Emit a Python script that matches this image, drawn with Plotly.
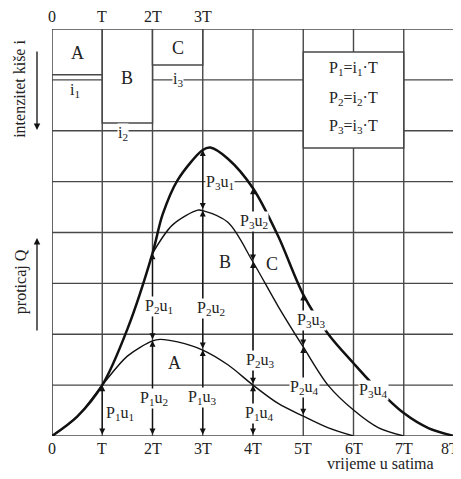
import plotly.graph_objects as go

# ---------------- data ----------------
TIME_TICKS = [0, 1, 2, 3, 4, 5, 6, 7, 8]
TIME_LABELS = ["0", "T", "2T", "3T", "4T", "5T", "6T", "7T", "8T"]
TOP_TICKS = [0, 1, 2, 3]
TOP_LABELS = ["0", "T", "2T", "3T"]

# runoff from block A
a_x = [0, 0.5, 1, 1.5, 2, 2.15, 2.5, 3, 3.5, 4, 4.5, 5, 5.5, 6]
a_y = [0, 0.38, 1, 1.57, 1.87, 1.9, 1.85, 1.69, 1.40, 1.0, 0.64, 0.39, 0.16, 0]
# runoff A + B
ab_x = [2, 2.4, 2.9, 3, 3.5, 4, 4.5, 5, 5.5, 6, 6.5, 7]
ab_y = [3.59, 4.15, 4.44, 4.43, 4.2, 3.42, 2.55, 1.75, 0.99, 0.51, 0.16, 0]
# runoff A + B + C
abc_x = [0, 0.5, 1, 1.5, 2, 2.2, 2.5, 3, 3.15, 3.5, 4, 4.5, 5, 5.5, 6, 6.4, 7, 7.5, 8]
abc_y = [0, 0.38, 1, 2.1, 3.59, 4.35, 5.03, 5.62, 5.67, 5.45, 4.87, 3.93, 2.78, 2.0, 1.43, 1.0, 0.45, 0.15, 0]

# rain blocks (hanging from the top)
block_names = ["A", "B", "C"]
block_x0 = [0, 1, 2]
block_x1 = [1, 2, 3]
block_bottom = [7.1, 6.15, 7.29]
block_top = 8
intensity_names = ["i<sub>1</sub>", "i<sub>2</sub>", "i<sub>3</sub>"]

# formula box
formula_x = [5, 7]
formula_y = [5.66, 7.55]
formula_lines = ["P<sub>1</sub>=i<sub>1</sub>·T",
                 "P<sub>2</sub>=i<sub>2</sub>·T",
                 "P<sub>3</sub>=i<sub>3</sub>·T"]

# ordinate arrows  (x, from, to)
arrow_x = [1, 2, 2, 3, 3, 3, 4, 4, 4, 5, 5]
arrow_y0 = [0, 0, 1.87, 0, 1.69, 4.43, 0, 1.0, 3.42, 0.39, 1.75]
arrow_y1 = [1, 1.87, 3.59, 1.69, 4.43, 5.62, 1.0, 3.42, 4.87, 1.75, 2.78]

# ordinate labels
ord_text = ["P<sub>1</sub>u<sub>1</sub>", "P<sub>1</sub>u<sub>2</sub>", "P<sub>1</sub>u<sub>3</sub>",
            "P<sub>1</sub>u<sub>4</sub>", "P<sub>2</sub>u<sub>1</sub>", "P<sub>2</sub>u<sub>2</sub>",
            "P<sub>2</sub>u<sub>3</sub>", "P<sub>2</sub>u<sub>4</sub>", "P<sub>3</sub>u<sub>1</sub>",
            "P<sub>3</sub>u<sub>2</sub>", "P<sub>3</sub>u<sub>3</sub>", "P<sub>3</sub>u<sub>4</sub>"]
ord_x = [1.36, 2.03, 3.0, 4.13, 2.12, 3.16, 4.15, 5.03, 3.34, 4.02, 5.17, 6.39]
ord_y = [0.45, 0.74, 0.75, 0.45, 2.54, 2.51, 1.48, 0.96, 4.98, 4.21, 2.28, 0.90]

curve_names = ["A", "B", "C"]
curve_lab_x = [2.43, 3.44, 4.37]
curve_lab_y = [1.43, 3.43, 3.39]

# ---------------- style ----------------
FONT = "Liberation Serif"
TXT = "#222222"
GRID = "#484848"
INK = "#111111"

fig = go.Figure()

fig.add_trace(go.Scatter(x=a_x, y=a_y, mode="lines", line=dict(color=INK, width=1.4, shape="spline", smoothing=0.9),
                         hoverinfo="skip", showlegend=False))
fig.add_trace(go.Scatter(x=ab_x, y=ab_y, mode="lines", line=dict(color=INK, width=1.4, shape="spline", smoothing=0.9),
                         hoverinfo="skip", showlegend=False))
fig.add_trace(go.Scatter(x=abc_x, y=abc_y, mode="lines", line=dict(color=INK, width=2.5, shape="spline", smoothing=0.9),
                         hoverinfo="skip", showlegend=False))

shapes = []
# grid and frame
for v in TIME_TICKS:
    w = 1.7 if v in (0, 8) else 1.4
    shapes.append(dict(type="line", xref="x", yref="y", x0=v, x1=v, y0=0, y1=8,
                       line=dict(color=GRID, width=w), layer="below"))
    shapes.append(dict(type="line", xref="x", yref="y", x0=0, x1=8, y0=v, y1=v,
                       line=dict(color=GRID, width=w), layer="below"))
for x0, x1, yb in zip(block_x0, block_x1, block_bottom):
    shapes.append(dict(type="rect", xref="x", yref="y", x0=x0, x1=x1, y0=yb, y1=block_top,
                       fillcolor="white", line=dict(color=GRID, width=1.5), layer="above"))
shapes.append(dict(type="rect", xref="x", yref="y", x0=formula_x[0], x1=formula_x[1],
                   y0=formula_y[0], y1=formula_y[1], fillcolor="white",
                   line=dict(color=GRID, width=1.5), layer="above"))

ann = []
for x, y0, y1 in zip(arrow_x, arrow_y0, arrow_y1):
    ann.append(dict(x=x, y=y1, ax=x, ay=y0, xref="x", yref="y", axref="x", ayref="y",
                    text="", showarrow=True, arrowhead=2, startarrowhead=2, arrowside="end+start",
                    arrowsize=1, startarrowsize=1, arrowwidth=1.2, arrowcolor=INK,
                    standoff=0, startstandoff=0))

f16 = dict(family=FONT, size=16, color=TXT)
f18 = dict(family=FONT, size=18, color=TXT)
C = dict(xanchor="center", yanchor="middle", showarrow=False)

for t, x, y in zip(ord_text, ord_x, ord_y):
    ann.append(dict(x=x, y=y, xref="x", yref="y", text=t, font=f16, bgcolor="white", borderpad=0, **C))
for t, x, y in zip(curve_names, curve_lab_x, curve_lab_y):
    ann.append(dict(x=x, y=y, xref="x", yref="y", text=t, font=f18, **C))

# block labels
block_lab_pos = [(0.5, 7.53), (1.49, 7.04), (2.5, 7.63)]
for t, (x, y) in zip(block_names, block_lab_pos):
    ann.append(dict(x=x, y=y, xref="x", yref="y", text=t, font=f18, **C))
int_lab_pos = [(0.46, 6.8, None), (1.42, 5.95, "white"), (2.5, 7.0, "white")]
for t, (x, y, bg) in zip(intensity_names, int_lab_pos):
    d = dict(x=x, y=y, xref="x", yref="y", text=t, font=f16, borderpad=0, **C)
    if bg:
        d["bgcolor"] = bg
    ann.append(d)

for t, y in zip(formula_lines, [7.23, 6.63, 6.08]):
    ann.append(dict(x=6, y=y, xref="x", yref="y", text=t, font=f16, **C))

# top time labels
for v, t in zip(TOP_TICKS, TOP_LABELS):
    ann.append(dict(x=v, y=1 + 12 / 407, xref="x", yref="paper", text=t, font=f16, **C))

# bottom time labels (as annotations so the last one can hug the right edge)
for v, t in zip(TIME_TICKS, TIME_LABELS):
    if v == TIME_TICKS[-1]:
        ann.append(dict(x=1 + 7 / 402, y=-12 / 407, xref="paper", yref="paper", text=t, font=f16,
                        xanchor="right", yanchor="middle", showarrow=False))
    else:
        ann.append(dict(x=v, y=-12 / 407, xref="x", yref="paper", text=t, font=f16, **C))

# axis titles
ann.append(dict(x=6.53, y=-28 / 407, xref="x", yref="paper", text="vrijeme u satima", font=f16, **C))
ann.append(dict(x=-32 / 402, y=0.853, xref="paper", yref="paper", text="intenzitet kiše i",
                textangle=-90, font=f16, **C))
ann.append(dict(x=-31 / 402, y=0.378, xref="paper", yref="paper", text="proticaj Q",
                textangle=-90, font=f16, **C))
# direction arrows
ann.append(dict(x=-15 / 402, y=(436 - 130) / 407, xref="paper", yref="paper", ax=0, ay=-80,
                text="", showarrow=True, arrowhead=2, arrowsize=1, arrowwidth=1.3, arrowcolor=INK))
ann.append(dict(x=-15 / 402, y=(436 - 238) / 407, xref="paper", yref="paper", ax=0, ay=94,
                text="", showarrow=True, arrowhead=2, arrowsize=1, arrowwidth=1.3, arrowcolor=INK))

# page body has an 8 px margin: compensate so the plot sits where the reference has it
fig.update_layout(
    width=453, height=463,
    margin=dict(l=44, r=7, t=21, b=35),
    plot_bgcolor="white", paper_bgcolor="white",
    shapes=shapes, annotations=ann,
    xaxis=dict(range=[0, 8], tickvals=TIME_TICKS, showticklabels=False, showgrid=False,
               zeroline=False, showline=False, ticks="", fixedrange=True),
    yaxis=dict(range=[0, 8], tickvals=TIME_TICKS, showticklabels=False, showgrid=False,
               zeroline=False, showline=False, ticks="", fixedrange=True),
)

fig.write_html("out.html")
